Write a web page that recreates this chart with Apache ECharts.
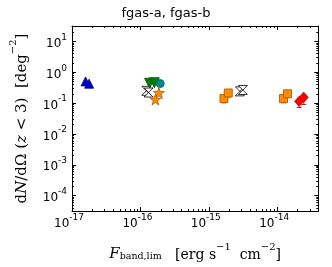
<!DOCTYPE html>
<html><head><meta charset="utf-8">
<script src="https://cdn.jsdelivr.net/npm/echarts@6/dist/echarts.min.js"></script>
<style>html,body{margin:0;padding:0;background:#fff}#c{width:332px;height:267px}</style>
</head><body><div id="c"></div>
<script>
// ---- data (flux limit [erg s^-1 cm^-2], dN/dOmega [deg^-2]) ----
const xTickExps = [-17, -16, -15, -14];
const yTickExps = [-4, -3, -2, -1, 0, 1];
const xMin = 1e-17, xMax = 4e-14;
const yMin = Math.pow(10, -4.5), yMax = Math.pow(10, 1.5);
const blueTriangles = [[1.58e-17, 0.505], [1.78e-17, 0.426]];
const greenTriangles = [[1.36e-16, 0.44], [1.6e-16, 0.46]];
const tealCircles = [[1.95e-16, 0.43]];
const blackHourglass = [[1.22e-16, 0.25], [1.32e-16, 0.22], [2.85e-15, 0.24], [3.15e-15, 0.265]];
const orangeStars = [[1.87e-16, 0.213], [1.66e-16, 0.13]];
const orangeSquares = [[1.67e-15, 0.14], [1.93e-15, 0.213], [1.24e-14, 0.14], [1.42e-14, 0.2]];
const squareErrLow = [0.1, 0.15, 0.1, 0.15];
const redDiamonds = [[2.1e-14, 0.114], [2.45e-14, 0.154]];
const diamondErrLow = [0.072, 0.09];

const L = Math.log10;
const tr = a => a.map(p => [L(p[0]), L(p[1])]);
function minorVals(lo, hi) {
  const out = [];
  for (let d = Math.floor(lo) - 1; d <= Math.ceil(hi); d++)
    for (let k = 2; k <= 9; k++) { const v = d + L(k); if (v > lo && v < hi) out.push(v); }
  return out;
}
const xr = [L(xMin), L(xMax)], yr = [L(yMin), L(yMax)];
const supFmt = v => '{b|10}{s|' + Math.round(v) + '}';
const rich = {
  b: {fontFamily: 'DejaVu Sans', fontSize: 12, color: '#000', verticalAlign: 'bottom', lineHeight: 17},
  s: {fontFamily: 'DejaVu Sans', fontSize: 9, color: '#000', verticalAlign: 'top', lineHeight: 17}
};
function axis(pos, isX, major, showLabel) {
  const r = isX ? xr : yr;
  return {
    type: 'value', position: pos, min: r[0], max: r[1], gridIndex: 0,
    splitLine: {show: false},
    axisLine: {show: major, onZero: false, lineStyle: {color: '#000', width: 1}},
    axisTick: {show: true, inside: true, length: major ? 4 : 2, lineStyle: {color: '#000', width: 1},
      customValues: major ? (isX ? xTickExps : yTickExps) : minorVals(r[0], r[1])},
    axisLabel: {show: showLabel, customValues: isX ? xTickExps : yTickExps, formatter: supFmt, rich: rich,
      margin: isX ? 2 : 5, padding: isX ? [0, 6, 0, 0] : 0}
  };
}
const xAxes = [axis('bottom', true, true, true), axis('bottom', true, false, false), axis('top', true, true, false), axis('top', true, false, false)];
const yAxes = [axis('left', false, true, true), axis('left', false, false, false), axis('right', false, true, false), axis('right', false, false, false)];
xAxes[0].name = '{fi|F}{sub|band,lim}{r|   [erg s}{sup|−1}{r|  cm}{sup|−2}{r|]}';
xAxes[0].nameLocation = 'middle';
xAxes[0].nameGap = 31;
xAxes[0].nameTextStyle = {rich: {
  fi: {fontFamily: 'DejaVu Serif', fontStyle: 'italic', fontSize: 15, color: '#000', verticalAlign: 'bottom', lineHeight: 20},
  sub: {fontFamily: 'DejaVu Serif', fontSize: 9.5, color: '#000', verticalAlign: 'bottom', lineHeight: 16},
  r: {fontFamily: 'DejaVu Serif', fontSize: 14, color: '#000', verticalAlign: 'bottom', lineHeight: 20},
  sup: {fontFamily: 'DejaVu Serif', fontSize: 10, color: '#000', verticalAlign: 'top', lineHeight: 20}
}};
yAxes[0].name = '{r|d}{i|N}{r|/dΩ (}{i|z}{r| < 3)  [deg}{sup|−2}{r|]}';
yAxes[0].nameLocation = 'middle';
yAxes[0].nameGap = 42;
yAxes[0].nameTextStyle = {rich: {
  r: {fontFamily: 'DejaVu Serif', fontSize: 15, color: '#000', verticalAlign: 'bottom', lineHeight: 22},
  i: {fontFamily: 'DejaVu Serif', fontStyle: 'italic', fontSize: 15, color: '#000', verticalAlign: 'bottom', lineHeight: 22},
  sup: {fontFamily: 'DejaVu Serif', fontSize: 10, color: '#000', verticalAlign: 'top', lineHeight: 22}
}};

function errSeries(pts, lows, color) {
  return {
    type: 'custom', xAxisIndex: 0, yAxisIndex: 0, z: 1,
    data: pts.map((p, i) => [L(p[0]), L(p[1]), L(lows[i])]),
    renderItem: (params, api) => {
      const a = api.coord([api.value(0), api.value(1)]);
      const b = api.coord([api.value(0), api.value(2)]);
      return {type: 'group', children: [
        {type: 'line', shape: {x1: a[0], y1: a[1], x2: b[0], y2: b[1]}, style: {stroke: color, lineWidth: 1}},
        {type: 'line', shape: {x1: b[0] - 2.5, y1: b[1], x2: b[0] + 2.5, y2: b[1]}, style: {stroke: color, lineWidth: 1}}
      ]};
    }
  };
}
function sc(data, symbol, size, fill, edge, z) {
  return {type: 'scatter', xAxisIndex: 0, yAxisIndex: 0, data: tr(data), symbol: symbol, symbolSize: size, z: z || 2,
    itemStyle: {color: fill, borderColor: edge, borderWidth: 0.8, opacity: 1}, emphasis: {disabled: true}};
}
const star = 'path://M50,0 L61.8,35.4 L100,35.4 L69.1,57.3 L80.9,95.1 L50,72.4 L19.1,95.1 L30.9,57.3 L0,35.4 L38.2,35.4 Z';
const downTri = 'path://M0,0 L100,0 L50,90 Z';
const hourglass = 'path://M0,0 L100,0 L0,100 L100,100 Z';

const chart = echarts.init(document.getElementById('c'), null, {renderer: 'canvas'});
chart.setOption({
  animation: false,
  backgroundColor: '#fff',
  title: {text: 'fgas-a, fgas-b', left: 'center', top: 2, textStyle: {fontFamily: 'DejaVu Sans', fontSize: 13, fontWeight: 'normal', color: '#000'}},
  grid: {left: 66.7, top: 26, right: 13.7, bottom: 55, containLabel: false},
  xAxis: xAxes,
  yAxis: yAxes,
  series: [
    errSeries(orangeSquares, squareErrLow, '#ff8c00'),
    errSeries(redDiamonds, diamondErrLow, '#ff0000'),
    sc(blueTriangles, 'triangle', 9, '#0000cc', '#00007a'),
    sc(greenTriangles, downTri, [10, 10], '#008000', '#005000'),
    sc(tealCircles, 'circle', 8, '#008b8b', '#005a5a'),
    sc(blackHourglass, hourglass, [9, 9], '#ffffff', '#000000'),
    sc(orangeStars, star, 11, '#ff8c00', '#b05a00', 3),
    sc(orangeSquares, 'rect', 8, '#ff8c00', '#a05000'),
    sc(redDiamonds, 'diamond', [9, 10], '#ff0000', '#b00000')
  ]
});
</script></body></html>
